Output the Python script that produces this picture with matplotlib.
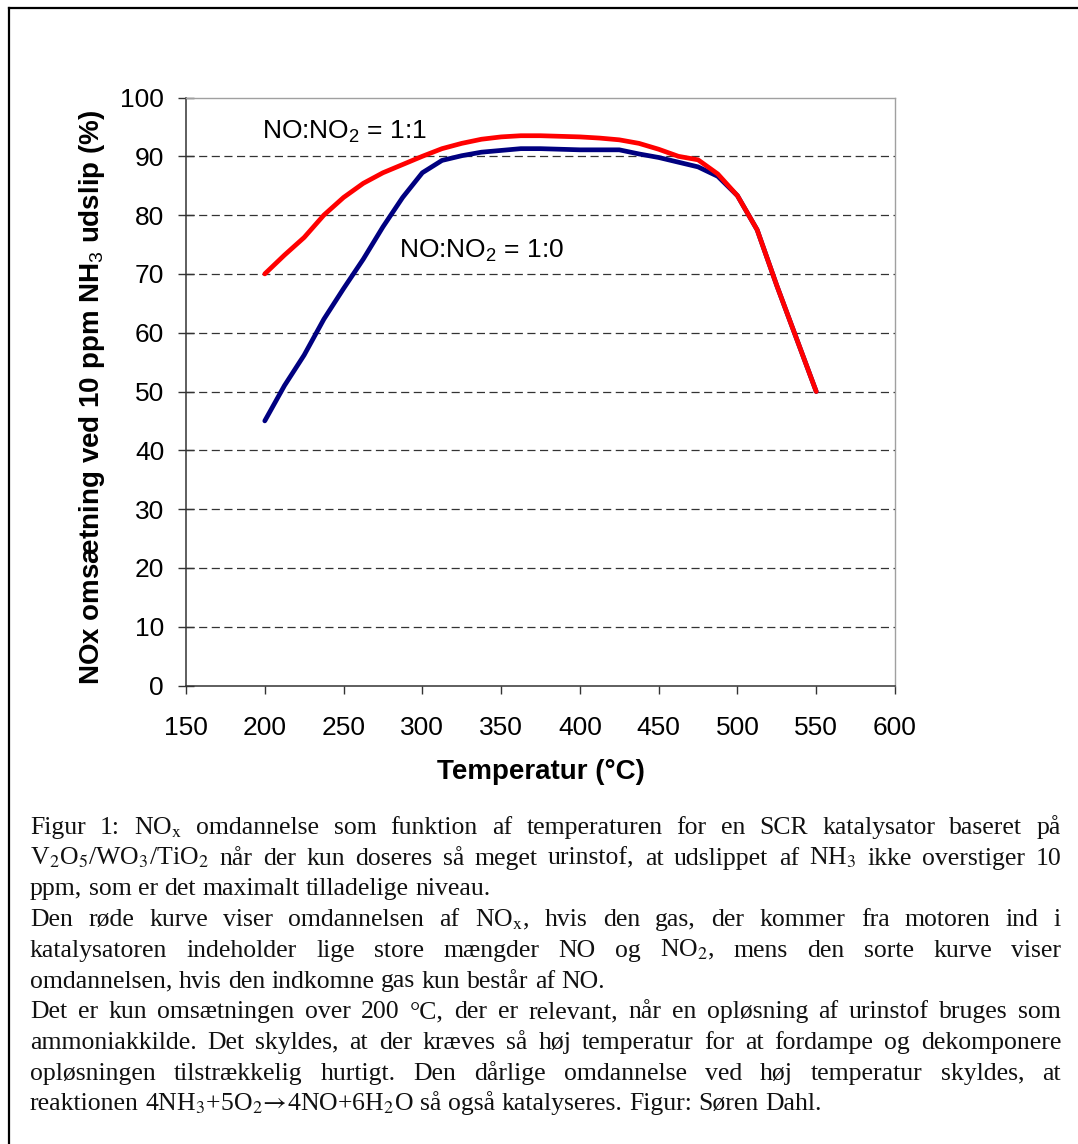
import numpy as np
import matplotlib.pyplot as plt
from matplotlib.lines import Line2D

##### fonts #####
plt.rcParams['font.family'] = ['Liberation Sans', 'DejaVu Sans']
plt.rcParams['mathtext.fontset'] = 'custom'
plt.rcParams['mathtext.rm'] = 'Liberation Sans'
plt.rcParams['mathtext.it'] = 'Liberation Sans:italic'
plt.rcParams['mathtext.bf'] = 'Liberation Sans:bold'

##### data #####
temp_red = [200, 212.5, 225, 237.5, 250, 262.5, 275, 287.5, 300, 312.5, 325, 337.5,
            350, 362.5, 375, 387.5, 400, 412.5, 425, 437.5, 450, 462.5, 475, 487.5,
            500, 512.5, 525, 537.5, 550]
conv_red = [70, 73.2, 76.2, 80, 83, 85.4, 87.2, 88.6, 90, 91.3, 92.2, 92.9,
            93.3, 93.5, 93.5, 93.4, 93.3, 93.1, 92.8, 92.2, 91.2, 90, 89.4, 87,
            83.3, 77.5, 68, 59, 50]

temp_blue = [200, 212.5, 225, 237.5, 250, 262.5, 275, 287.5, 300, 312.5, 325, 337.5,
             350, 362.5, 375, 387.5, 400, 412.5, 425, 437.5, 450, 462.5, 475, 487.5,
             500, 512.5, 525, 537.5, 550]
conv_blue = [45, 51, 56.2, 62.3, 67.5, 72.5, 78, 83, 87.2, 89.3, 90.1, 90.7,
             91, 91.3, 91.3, 91.2, 91.1, 91.1, 91.1, 90.4, 89.8, 89, 88.2, 86.6,
             83.3, 77.5, 68, 59, 50]

x_ticks = [150, 200, 250, 300, 350, 400, 450, 500, 550, 600]
y_ticks = [0, 10, 20, 30, 40, 50, 60, 70, 80, 90, 100]

label_red = "NO:NO$_2$ = 1:1"
label_blue = "NO:NO$_2$ = 1:0"
xlabel = "Temperatur (°C)"
ylabel = "NOx omsætning ved 10 ppm NH$_3$ udslip (%)"

# (line, justified?)
caption_lines = [
    ("Figur 1: NO$_\\mathrm{x}$ omdannelse som funktion af temperaturen for en SCR katalysator baseret på", True),
    ("V$_2$O$_5$/WO$_3$/TiO$_2$ når der kun doseres så meget urinstof, at udslippet af NH$_3$ ikke overstiger 10", True),
    ("ppm, som er det maximalt tilladelige niveau.", False),
    ("Den røde kurve viser omdannelsen af NO$_\\mathrm{x}$, hvis den gas, der kommer fra motoren ind i", True),
    ("katalysatoren indeholder lige store mængder NO og NO$_2$, mens den sorte kurve viser", True),
    ("omdannelsen, hvis den indkomne gas kun består af NO.", False),
    ("Det er kun omsætningen over 200 °C, der er relevant, når en opløsning af urinstof bruges som", True),
    ("ammoniakkilde. Det skyldes, at der kræves så høj temperatur for at fordampe og dekomponere", True),
    ("opløsningen tilstrækkelig hurtigt. Den dårlige omdannelse ved høj temperatur skyldes, at", True),
    ("reaktionen 4NH$_3$+5O$_2$$\\!\\rightarrow\\!$4NO+6H$_2$O så også katalyseres. Figur: Søren Dahl.", False),
]

W, H = 1078, 1144
fig = plt.figure(figsize=(W / 100, H / 100), dpi=100)
fig.patch.set_facecolor('white')

# --- chart ---
ax = fig.add_axes([186 / W, 1 - 685.5 / H, 709 / W, 588 / H])
ax.plot(temp_blue, conv_blue, color='#000080', lw=3.4, solid_capstyle='round',
        solid_joinstyle='round', zorder=3)
ax.plot(temp_red, conv_red, color='#ff0000', lw=3.4, solid_capstyle='round',
        solid_joinstyle='round', zorder=4)

ax.set_xlim(150, 600)
ax.set_ylim(0, 100)
ax.set_xticks(x_ticks)
ax.set_yticks(y_ticks)

ax.yaxis.grid(True, color='#333333', lw=0.9, linestyle=(0, (6.5, 3.6)))
ax.set_axisbelow(True)
ax.yaxis.get_gridlines()[-1].set_visible(False)
ax.yaxis.get_gridlines()[0].set_visible(False)

for s in ['top', 'right']:
    ax.spines[s].set_color('#a0a0a0')
    ax.spines[s].set_linewidth(1.0)
for s in ['left', 'bottom']:
    ax.spines[s].set_color('#333333')
    ax.spines[s].set_linewidth(1.1)

ax.tick_params(axis='y', direction='inout', length=11.5, width=1, pad=10,
               labelsize=19, color='#333333')
ax.tick_params(axis='x', direction='out', length=6, width=1, pad=16,
               labelsize=19, color='#333333')

ax.set_xlabel(xlabel, fontsize=20, fontweight='bold', va='center')
ax.xaxis.set_label_coords(0.5, (685.5 - 772) / 588)
ax.set_ylabel(ylabel, fontsize=20, fontweight='bold', va='center')
ax.yaxis.set_label_coords((92 - 186) / 709, 0.49)

ax.text(198.2, 92.9, label_red, fontsize=19, va='baseline', ha='left')
ax.text(285.2, 72.7, label_blue, fontsize=19, va='baseline', ha='left')

# --- outer frame (left and top only, the rest is cropped) ---
fig.add_artist(Line2D([9 / W, 9 / W], [0, 1 - 8 / H], transform=fig.transFigure,
                      color='black', lw=1.6))
fig.add_artist(Line2D([9 / W, 1], [1 - 8 / H, 1 - 8 / H], transform=fig.transFigure,
                      color='black', lw=1.6))

# --- caption, justified ---
renderer = fig.canvas.get_renderer()
cap_left, cap_right = 30, 1061
base0, spacing = 834, 30.7
cap_size = 18.5
space_px = cap_size * 100 / 72 * 0.25
cap_font = dict(fontsize=cap_size, family=['Liberation Serif', 'DejaVu Serif'],
                math_fontfamily='stix', va='baseline', ha='left', color='#111111')

for i, (line, justify) in enumerate(caption_lines):
    y = 1 - (base0 + i * spacing) / H
    words = line.split(' ')
    texts = [fig.text(0, y, w, **cap_font) for w in words]
    widths = [t.get_window_extent(renderer).width for t in texts]
    if justify and len(words) > 1:
        gap = (cap_right - cap_left - sum(widths)) / (len(words) - 1)
    else:
        gap = space_px
    x = cap_left
    for t, w in zip(texts, widths):
        t.set_x(x / W)
        x += w + gap

fig.savefig('out.png', dpi=100, facecolor='white')
